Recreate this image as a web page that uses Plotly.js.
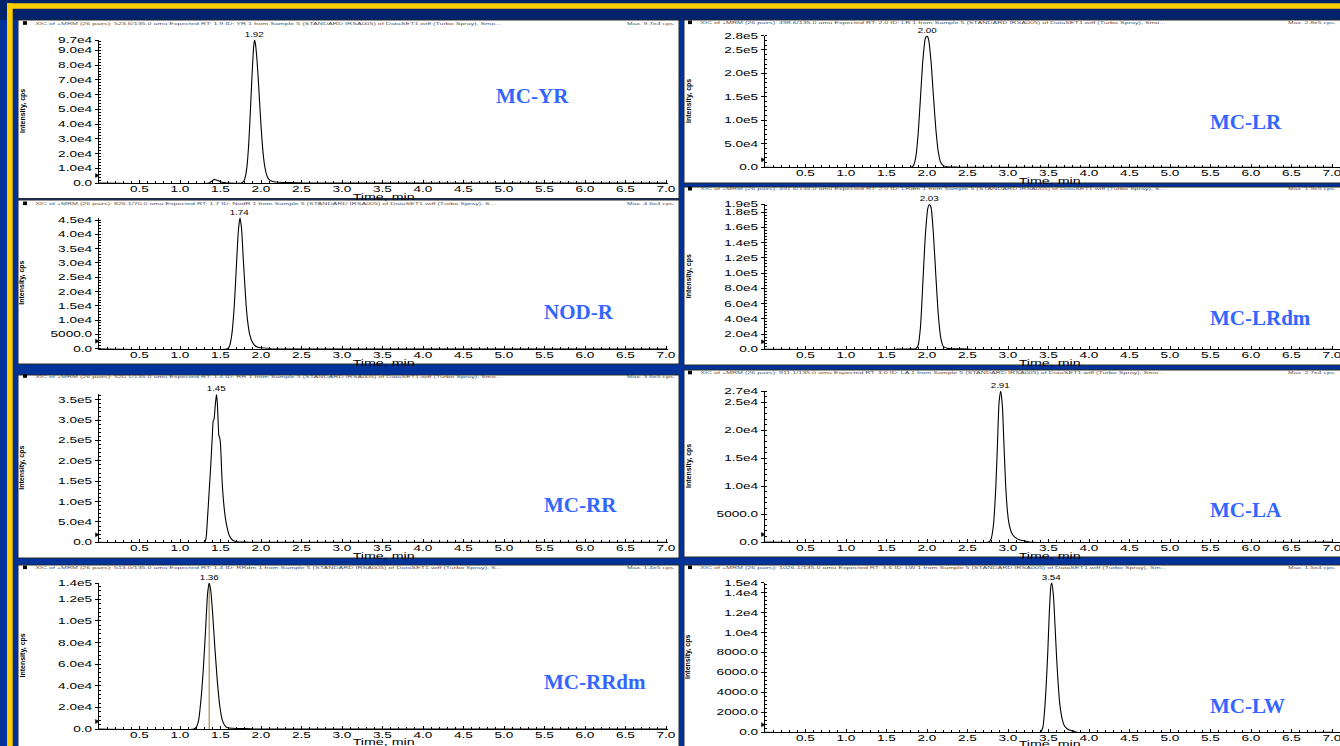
<!DOCTYPE html>
<html>
<head>
<meta charset="utf-8">
<script src="https://cdn.plot.ly/plotly-3.0.1.min.js"></script>
<style>
html,body{margin:0;padding:0;background:#003399;overflow:hidden;}
#chart{width:1340px;height:746px;}
</style>
</head>
<body>
<div id="chart"></div>
<script>
// ---------------- DATA ----------------
const compounds = ["MC-YR", "MC-LR", "NOD-R", "MC-LRdm", "MC-RR", "MC-LA", "MC-RRdm", "MC-LW"];
const apexTimes = [1.92, 2.00, 1.74, 2.03, 1.45, 2.91, 1.36, 3.54];
const apexLabels = ["1.92", "2.00", "1.74", "2.03", "1.45", "2.91", "1.36", "3.54"];
const axisTop = [97000, 280000, 45800, 190000, 363000, 27000, 135000, 15000];

const tYR = [0, 1.36, 1.39, 1.42, 1.45, 1.48, 1.52, 1.56, 1.60, 1.76, 1.79, 1.81, 1.83, 1.85, 1.87, 1.89, 1.91, 1.92, 1.93, 1.95, 1.97, 1.99, 2.01, 2.03, 2.05, 2.07, 2.09, 2.12, 2.16, 2.22, 2.30, 2.45, 2.50, 7.0];
const iYR = [0, 0, 1200, 2300, 2100, 1300, 500, 100, 0, 0, 1500, 5000, 13000, 28000, 50000, 74000, 93000, 97000, 95000, 84000, 67000, 48000, 31000, 18000, 10000, 5500, 3000, 1500, 800, 500, 300, 150, 0, 0];

const tLR = [0, 1.80, 1.83, 1.86, 1.89, 1.92, 1.95, 1.98, 2.00, 2.02, 2.05, 2.08, 2.11, 2.14, 2.17, 2.20, 2.25, 2.35, 2.40, 7.0];
const iLR = [0, 0, 3000, 20000, 70000, 150000, 230000, 275000, 280000, 272000, 225000, 150000, 80000, 32000, 10000, 3500, 1200, 300, 0, 0];

const tNODR = [0, 1.58, 1.61, 1.64, 1.67, 1.70, 1.72, 1.74, 1.76, 1.78, 1.80, 1.82, 1.84, 1.86, 1.89, 1.92, 1.96, 2.02, 2.10, 2.15, 7.0];
const iNODR = [0, 0, 800, 5000, 15000, 31000, 41000, 45800, 42000, 32000, 22500, 14000, 8500, 5000, 2500, 1200, 500, 250, 100, 0, 0];

const tLRdm = [0, 1.62, 1.64, 1.80, 1.86, 1.89, 1.92, 1.95, 1.98, 2.01, 2.03, 2.05, 2.08, 2.11, 2.14, 2.17, 2.20, 2.25, 2.35, 2.50, 2.52, 7.0];
const iLRdm = [0, 0, 400, 500, 800, 5000, 30000, 90000, 150000, 185000, 190000, 186000, 150000, 95000, 45000, 15000, 4000, 1500, 700, 400, 0, 0];

const tRR = [0, 1.30, 1.32, 1.34, 1.36, 1.38, 1.40, 1.41, 1.42, 1.435, 1.45, 1.46, 1.47, 1.48, 1.49, 1.50, 1.52, 1.54, 1.56, 1.58, 1.61, 1.65, 1.70, 1.80, 1.85, 7.0];
const iRR = [0, 0, 8000, 60000, 125000, 190000, 265000, 298000, 302000, 335000, 363000, 345000, 300000, 262000, 257000, 240000, 150000, 95000, 60000, 38000, 16000, 5000, 1500, 400, 0, 0];

const tLA = [0, 2.76, 2.79, 2.82, 2.85, 2.87, 2.89, 2.91, 2.93, 2.95, 2.97, 2.99, 3.01, 3.04, 3.08, 3.14, 3.22, 3.26, 7.0];
const iLA = [0, 0, 500, 3000, 10000, 17500, 25000, 27000, 24500, 17500, 10500, 6000, 3500, 1800, 900, 400, 150, 0, 0];

const tRRdm = [0, 1.17, 1.20, 1.23, 1.26, 1.29, 1.32, 1.34, 1.36, 1.38, 1.40, 1.43, 1.46, 1.49, 1.52, 1.55, 1.58, 1.65, 1.75, 1.87, 1.90, 7.0];
const iRRdm = [0, 0, 1500, 8300, 28000, 58000, 98000, 125000, 135000, 128000, 110000, 76000, 45000, 22000, 9000, 3500, 1500, 700, 400, 200, 0, 0];

const tLW = [0, 3.40, 3.43, 3.45, 3.47, 3.49, 3.51, 3.53, 3.54, 3.56, 3.58, 3.60, 3.62, 3.64, 3.67, 3.70, 3.75, 3.82, 3.85, 7.0];
const iLW = [0, 0, 500, 2000, 4500, 7800, 12000, 14700, 14980, 13800, 10800, 7500, 4800, 2800, 1300, 600, 250, 100, 0, 0];

// retention-time marker drawn in the MC-RRdm panel
const rtMarkerRRdm = [1.36, 1.36];
const rtMarkerRRdmY = [0, 135000];

const xTickVals = [0.5, 1.0, 1.5, 2.0, 2.5, 3.0, 3.5, 4.0, 4.5, 5.0, 5.5, 6.0, 6.5, 7.0];
const xTickText = ["0.5", "1.0", "1.5", "2.0", "2.5", "3.0", "3.5", "4.0", "4.5", "5.0", "5.5", "6.0", "6.5", "7.0"];

const yTickValsYR = [0, 10000, 20000, 30000, 40000, 50000, 60000, 70000, 80000, 90000, 97000];
const yTickTextYR = ["0.0", "1.0e4", "2.0e4", "3.0e4", "4.0e4", "5.0e4", "6.0e4", "7.0e4", "8.0e4", "9.0e4", "9.7e4"];
const yTickValsLR = [0, 50000, 100000, 150000, 200000, 250000, 280000];
const yTickTextLR = ["0.0", "5.0e4", "1.0e5", "1.5e5", "2.0e5", "2.5e5", "2.8e5"];
const yTickValsNODR = [0, 5000, 10000, 15000, 20000, 25000, 30000, 35000, 40000, 45000];
const yTickTextNODR = ["0.0", "5000.0", "1.0e4", "1.5e4", "2.0e4", "2.5e4", "3.0e4", "3.5e4", "4.0e4", "4.5e4"];
const yTickValsLRdm = [0, 20000, 40000, 60000, 80000, 100000, 120000, 140000, 160000, 180000, 190000];
const yTickTextLRdm = ["0.0", "2.0e4", "4.0e4", "6.0e4", "8.0e4", "1.0e5", "1.2e5", "1.4e5", "1.6e5", "1.8e5", "1.9e5"];
const yTickValsRR = [0, 50000, 100000, 150000, 200000, 250000, 300000, 350000];
const yTickTextRR = ["0.0", "5.0e4", "1.0e5", "1.5e5", "2.0e5", "2.5e5", "3.0e5", "3.5e5"];
const yTickValsLA = [0, 5000, 10000, 15000, 20000, 25000, 27000];
const yTickTextLA = ["0.0", "5000.0", "1.0e4", "1.5e4", "2.0e4", "2.5e4", "2.7e4"];
const yTickValsRRdm = [0, 20000, 40000, 60000, 80000, 100000, 120000, 135000];
const yTickTextRRdm = ["0.0", "2.0e4", "4.0e4", "6.0e4", "8.0e4", "1.0e5", "1.2e5", "1.4e5"];
const yTickValsLW = [0, 2000, 4000, 6000, 8000, 10000, 12000, 14000, 15000];
const yTickTextLW = ["0.0", "2000.0", "4000.0", "6000.0", "8000.0", "1.0e4", "1.2e4", "1.4e4", "1.5e4"];
const yMinorStep = [2000, 10000, 1000, 4000, 10000, 1000, 4000, 400];

const headerText = [
  "XIC of +MRM (26 pairs): 523.6/135.0 amu Expected RT: 1.9 ID: YR 1 from Sample 5 (STANDARD IRSA005) of DataSET1.wiff (Turbo Spray), Smo...",
  "XIC of +MRM (26 pairs): 498.6/135.0 amu Expected RT: 2.0 ID: LR 1 from Sample 5 (STANDARD IRSA005) of DataSET1.wiff (Turbo Spray), Smo...",
  "XIC of +MRM (26 pairs): 826.1/70.0 amu Expected RT: 1.7 ID: NodR 1 from Sample 5 (STANDARD IRSA005) of DataSET1.wiff (Turbo Spray), S...",
  "XIC of +MRM (26 pairs): 491.6/135.0 amu Expected RT: 2.0 ID: LRdm 1 from Sample 5 (STANDARD IRSA005) of DataSET1.wiff (Turbo Spray), S...",
  "XIC of +MRM (26 pairs): 520.1/135.0 amu Expected RT: 1.4 ID: RR 1 from Sample 5 (STANDARD IRSA005) of DataSET1.wiff (Turbo Spray), Smo...",
  "XIC of +MRM (26 pairs): 911.1/135.0 amu Expected RT: 3.0 ID: LA 1 from Sample 5 (STANDARD IRSA005) of DataSET1.wiff (Turbo Spray), Smo...",
  "XIC of +MRM (26 pairs): 513.0/135.0 amu Expected RT: 1.4 ID: RRdm 1 from Sample 5 (STANDARD IRSA005) of DataSET1.wiff (Turbo Spray), S...",
  "XIC of +MRM (26 pairs): 1026.1/135.0 amu Expected RT: 3.6 ID: LW 1 from Sample 5 (STANDARD IRSA005) of DataSET1.wiff (Turbo Spray), Sm..."
];
const maxText = ["Max. 9.7e4 cps.", "Max. 2.8e5 cps.", "Max. 4.6e4 cps.", "Max. 1.9e5 cps.", "Max. 3.6e5 cps.", "Max. 2.7e4 cps.", "Max. 1.4e5 cps.", "Max. 1.5e4 cps."];
const xTitle = "Time, min";
const yTitle = "Intensity, cps";

// ---------------- LAYOUT GEOMETRY (pixels) ----------------
const W = 1340, H = 746;
const PXPERMIN = 81;
const cols = [
  {ax0: 99, ax1: 668, hx: 33, mx: 677, sqx: 23, tx: 383.5, ytx: 22.5},
  {ax0: 765, ax1: 1340, hx: 698, mx: 1338, sqx: 688, tx: 1049, ytx: 688.5}
];
const geom = [
  {col: 0, top: 40,    bot: 183,   box: [18, 20, 679, 198.5], hy: 23,    nx: 494,  ny: 96,  ty: 196.5},
  {col: 1, top: 35.7,  bot: 167.3, box: [684, 20, 1345, 183], hy: 22.3,  nx: 1208, ny: 122, ty: 180.8},
  {col: 0, top: 217.7, bot: 348.7, box: [18, 200, 679, 364],  hy: 203.3, nx: 542,  ny: 312, ty: 362.2},
  {col: 1, top: 204.3, bot: 349.3, box: [684, 187, 1345, 365], hy: 188.7, nx: 1208, ny: 318, ty: 362.8},
  {col: 0, top: 394.3, bot: 542.3, box: [18, 375, 679, 558],  hy: 376,   nx: 542,  ny: 505, ty: 555.8},
  {col: 1, top: 391,   bot: 542,   box: [684, 370, 1345, 557], hy: 372.5, nx: 1208, ny: 510, ty: 555.5},
  {col: 0, top: 583,   bot: 729,   box: [18, 565, 679, 750],  hy: 567.3, nx: 542,  ny: 682, ty: 741},
  {col: 1, top: 582.5, bot: 732.3, box: [684, 565, 1345, 750], hy: 567.3, nx: 1208, ny: 706, ty: 743.5}
];
const px = x => x / W;
const py = y => 1 - y / H;

const times = [tYR, tLR, tNODR, tLRdm, tRR, tLA, tRRdm, tLW];
const intens = [iYR, iLR, iNODR, iLRdm, iRR, iLA, iRRdm, iLW];
const yTickVals = [yTickValsYR, yTickValsLR, yTickValsNODR, yTickValsLRdm, yTickValsRR, yTickValsLA, yTickValsRRdm, yTickValsLW];
const yTickText = [yTickTextYR, yTickTextLR, yTickTextNODR, yTickTextLRdm, yTickTextRR, yTickTextLA, yTickTextRRdm, yTickTextLW];

const tickFont = {family: "Liberation Sans, Arial, sans-serif", size: 8.5, color: "#000"};
const traces = [];
const layout = {
  width: W, height: H, autosize: false,
  margin: {l: 0, r: 0, t: 0, b: 0, pad: 0},
  paper_bgcolor: "#003399", plot_bgcolor: "rgba(0,0,0,0)",
  showlegend: false, shapes: [], annotations: []
};
const annStretch = [];
function addAnn(a, stretch) { layout.annotations.push(a); annStretch.push(stretch || null); }

// background decoration
layout.shapes.push({type: "rect", xref: "paper", yref: "paper", x0: 0, x1: 1, y0: py(20), y1: 1, fillcolor: "#00236c", line: {width: 0}, layer: "below"});
layout.shapes.push({type: "rect", xref: "paper", yref: "paper", x0: px(7), x1: 1, y0: py(8.7), y1: py(3.3), fillcolor: "#ffcc00", line: {width: 0}, layer: "below"});
layout.shapes.push({type: "rect", xref: "paper", yref: "paper", x0: px(7), x1: px(12.7), y0: 0, y1: py(3.3), fillcolor: "#ffcc00", line: {width: 0}, layer: "below"});

geom.forEach((g, i) => {
  const c = cols[g.col];
  const n = i === 0 ? "" : String(i + 1);
  const xa = "xaxis" + n, ya = "yaxis" + n;
  const xr = (c.ax1 - c.ax0) / PXPERMIN;
  layout[xa] = {
    domain: [px(c.ax0), px(c.ax1)], range: [0, xr], anchor: "y" + n,
    showline: true, linecolor: "#000", linewidth: 1, showgrid: false, zeroline: false,
    ticks: "inside", ticklen: 3, tickwidth: 1, tickcolor: "#000",
    tickmode: "array", tickvals: xTickVals, ticktext: xTickText, tickfont: tickFont,
    ticklabelstandoff: -2,
    minor: {tickmode: "linear", tick0: 0, dtick: 0.1, ticks: "inside", ticklen: 2, tickcolor: "#000", showgrid: false},
    fixedrange: true
  };
  layout[ya] = {
    domain: [py(g.bot), py(g.top)], range: [0, axisTop[i] * 1.001], anchor: "x" + n,
    showline: true, linecolor: "#000", linewidth: 1, showgrid: false, zeroline: false,
    ticks: "outside", ticklen: 3, tickwidth: 1, tickcolor: "#000",
    tickmode: "array", tickvals: yTickVals[i], ticktext: yTickText[i], tickfont: tickFont,
    ticklabelstandoff: 1,
    minor: {tickmode: "linear", tick0: 0, dtick: yMinorStep[i], ticks: "inside", ticklen: 2, tickcolor: "#000", showgrid: false},
    fixedrange: true
  };
  if (i === 6) {
    traces.push({x: rtMarkerRRdm, y: rtMarkerRRdmY, xaxis: "x" + n, yaxis: "y" + n, mode: "lines",
      line: {color: "#8c7b3a", width: 1}, hoverinfo: "skip"});
  }
  traces.push({x: times[i], y: intens[i], xaxis: "x" + n, yaxis: "y" + n, mode: "lines",
    line: {color: "#000", width: 1.1, shape: "spline", smoothing: 0.6}, hoverinfo: "skip", name: compounds[i]});

  // white panel
  layout.shapes.push({type: "rect", xref: "paper", yref: "paper", x0: px(g.box[0]), x1: px(g.box[2]), y0: py(g.box[3]), y1: py(g.box[1]),
    fillcolor: "#ffffff", line: {color: "#2a2a2a", width: 1}, layer: "below"});
  // header square
  layout.shapes.push({type: "rect", xref: "paper", yref: "paper", x0: px(c.sqx), x1: px(c.sqx + 4), y0: py(g.hy + 1.8), y1: py(g.hy - 1.8),
    fillcolor: "#000", line: {width: 0}, layer: "below"});
  // threshold marker on y axis
  const a = c.ax0, b = g.bot;
  layout.shapes.push({type: "path", xref: "paper", yref: "paper",
    path: `M ${px(a - 3.5)} ${py(b - 9.5)} L ${px(a)} ${py(b - 7.5)} L ${px(a - 3.5)} ${py(b - 5.5)} Z`,
    fillcolor: "#000", line: {color: "#000", width: 0.5}, layer: "above"});

  addAnn({xref: "paper", yref: "paper", x: px(g.nx), y: py(g.ny), xanchor: "left", yanchor: "middle", showarrow: false,
    text: compounds[i], font: {family: "Liberation Serif, Times New Roman, serif", size: 21, color: "#3366ff", weight: 700}});
  addAnn({xref: "paper", yref: "paper", x: px(c.hx), y: py(g.hy), xanchor: "left", yanchor: "middle", showarrow: false,
    text: headerText[i], font: {family: "Liberation Sans, Arial, sans-serif", size: 4.4, color: "#555"}}, {s: 1.62, side: "left"});
  addAnn({xref: "paper", yref: "paper", x: px(c.mx), y: py(g.hy), xanchor: "right", yanchor: "middle", showarrow: false,
    text: maxText[i], font: {family: "Liberation Sans, Arial, sans-serif", size: 4.4, color: "#555"}}, {s: 1.55, side: "right"});
  addAnn({xref: "x" + n, yref: "y" + n, x: apexTimes[i], y: axisTop[i], xanchor: "center", yanchor: "bottom", showarrow: false,
    text: apexLabels[i], font: {family: "Liberation Sans, Arial, sans-serif", size: 6.5, color: "#000"}}, {s: 1.5, side: "center"});
  addAnn({xref: "paper", yref: "paper", x: px(c.tx), y: py(g.ty), xanchor: "center", yanchor: "middle", showarrow: false,
    text: xTitle, font: {family: "Liberation Sans, Arial, sans-serif", size: 9.5, color: "#000"}}, {s: 1.5, side: "center"});
  addAnn({xref: "paper", yref: "paper", x: px(c.ytx), y: py((g.top + g.bot) / 2), xanchor: "center", yanchor: "middle", showarrow: false,
    textangle: -90, text: yTitle, font: {family: "Liberation Sans, Arial, sans-serif", size: 7, color: "#000", weight: 700}});
});

function stretch(el, s, side) {
  const bb = el.getBBox();
  const ax = side === "left" ? bb.x : side === "right" ? bb.x + bb.width : bb.x + bb.width / 2;
  const ay = bb.y + bb.height / 2;
  const t = el.getAttribute("transform") || "";
  el.setAttribute("transform", t + ` translate(${ax},${ay}) scale(${s},1) translate(${-ax},${-ay})`);
}

const gd = document.getElementById("chart");
Plotly.newPlot(gd, traces, layout, {staticPlot: true, displayModeBar: false}).then(function () {
  gd.querySelectorAll(".xaxislayer-above text").forEach(t => stretch(t, 1.6, "center"));
  gd.querySelectorAll(".yaxislayer-above text").forEach(t => stretch(t, 1.6, "right"));
  gd.querySelectorAll("g.annotation").forEach(g => {
    const idx = +g.getAttribute("data-index");
    const spec = annStretch[idx];
    if (spec) { const t = g.querySelector("text"); if (t) stretch(t, spec.s, spec.side); }
  });
});
</script>
</body>
</html>
